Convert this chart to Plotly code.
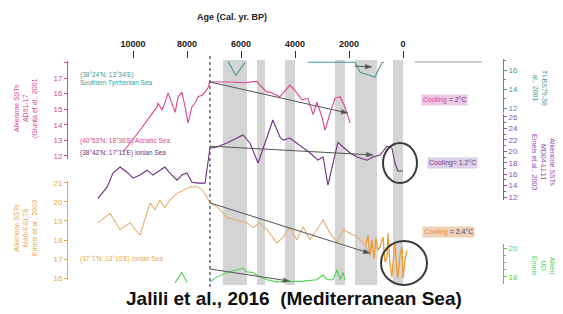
import plotly.graph_objects as go

W, H = 563, 314

# ---------------- data (age in cal. yr BP, SST in °C) ----------------
top_ticks = [10000, 8000, 6000, 4000, 2000, 0]
top_labels = ["10000", "8000", "6000", "4000", "2000", "0"]

band_start = [6670, 5410, 4370, 2520, 1780, 370]
band_end = [5780, 5110, 4000, 2150, 960, 0]

pink_age = [10370, 9740, 9110, 9070, 8930, 8820, 8700, 8560, 8440, 8330,
            8190, 8070, 7960, 7820, 7700, 7590, 7440, 7330, 7220, 7150,
            6410, 5850, 5410, 5300, 5040, 4930, 4560, 4190, 3930, 3740,
            3520, 3330, 3190, 3000, 2890, 2700, 2520, 2330, 2150, 1960]
pink_sst = [12.25, 13.65, 15.15, 15.4, 14.95, 15.4, 16.05, 15.4, 14.8, 15.8,
            16.1, 15.15, 14.1, 15.15, 15.4, 15.8, 15.9, 16.1, 16.4, 16.75,
            16.75, 16.7, 16.8, 16.55, 16.1, 16.1, 15.8, 16.55, 16.05, 15.6,
            15.7, 14.65, 15.45, 14.5, 13.65, 14.75, 15.7, 15.8, 15.15, 14.1]
pink_trend_age = [7150, 2040]
pink_trend_sst = [16.75, 14.75]

purple_age = [11300, 10960, 10740, 10480, 10220, 10000, 9740, 9480, 9260, 9000,
              8820, 8630, 8370, 8190, 8000, 7820, 7590, 7330, 7150, 6890,
              6520, 6150, 5930, 5670, 5370, 5110, 4820, 4560, 4440, 4190,
              3930, 3700, 3440, 3150, 2960, 2780, 2630, 2520, 2410, 2220,
              1960, 1700, 1330, 1110, 850, 590, 410, 300, 190, 0]
purple_sst = [11.8, 13.75, 16.2, 17.25, 16.35, 15.3, 15.85, 16.7, 15.85, 16.7,
              17.25, 16.2, 14.95, 15.85, 16.2, 14.6, 14.45, 14.45, 20.55, 20.75,
              21.45, 22.3, 22.85, 21.45, 17.95, 21.45, 25.45, 22.5, 21.95, 22.3,
              21.45, 20.55, 19.7, 18.45, 19.0, 14.1, 17.25, 19.7, 21.6, 20.75,
              19.7, 19.0, 18.45, 19.0, 19.35, 20.9, 20.55, 17.95, 16.55, 16.55]
purple_trend_age = [7150, 1110]
purple_trend_sst = [20.9, 19.35]

orange_age = [11300, 10850, 10480, 10110, 9740, 9370, 9190, 9000, 8820, 8630,
              8370, 7890, 7630, 7440, 7260, 7150, 6890, 6520, 6150, 5780,
              5560, 5300, 5040, 4670, 4440, 4190, 3930, 3700, 3440, 3190,
              2960, 2700, 2440, 2220, 1960, 1700, 1480, 1220]
orange_sst = [18.9, 19.4, 18.55, 18.9, 18.25, 19.95, 19.6, 20.1, 19.7, 20.1,
              20.45, 20.8, 20.8, 20.65, 20.25, 19.95, 19.75, 19.2, 19.05, 18.9,
              18.65, 18.9, 18.55, 17.85, 18.15, 18.65, 18.0, 18.7, 18.0, 18.55,
              19.05, 18.35, 17.9, 18.55, 18.35, 18.15, 17.85, 17.3]
orange_hr_age = [1370, 1300, 1220, 1150, 1070, 1000, 930, 850, 740, 670, 590, 560,
                 480, 410, 330, 300, 220, 190, 110, 40, 0, -70, -150]
orange_hr_sst = [17.75, 18.25, 17.2, 18.0, 17.05, 18.1, 17.45, 17.65, 18.15, 16.85, 17.1, 18.35,
                 16.7, 16.05, 17.45, 17.85, 16.4, 16.0, 17.2, 17.65, 16.0, 16.95, 17.45]
orange_trend_age = [7150, 1220]
orange_trend_sst = [19.95, 17.3]

teal_age = [6480, 6190, 5850, None, 3520, 2070, 1780, 1590, 1040, 780, 700]
teal_sst = [16.95, 15.45, 16.85, None, 16.85, 16.85, 16.85, 15.8, 15.3, 16.8, 16.85]
teal_trend_age = [1780, 1150]
teal_trend_sst = [16.45, 16.35]

green_age = [8440, 8190, 8000, None, 7150, 6890, 6520, 6150, 5930, 5780, 5560, 5300,
             5040, 4670, 4300, 3700, 3190, 2960, 2810, 2590, 2440, 2330, 2220, 2150]
green_sst = [17.6, 18.3, 17.6, None, 17.65, 18.0, 18.3, 18.5, 18.6, 18.35, 18.3, 18.0,
             17.8, 17.65, 17.65, 17.7, 17.8, 18.15, 17.8, 17.8, 18.5, 17.8, 18.3, 17.8]
green_trend_age = [7150, 4190]
green_trend_sst = [18.55, 17.7]

# ---------------- styling ----------------
PINK = "#dd4590"
PURPLE = "#6e2f80"
PURPLE_AX = "#9050b0"
ORANGE = "#e8b070"
ORANGE_HR = "#f09a30"
ORANGE_AX = "#e8a850"
TEAL = "#3f9c98"
GREEN = "#55d055"
FONT = "Liberation Sans"


def px(x):
    return x / W


def py(y):
    return 1 - y / H


fig = go.Figure()


def add_series(ages, vals, yaxis, color, width=1.1):
    fig.add_trace(go.Scatter(x=ages, y=vals, yaxis=yaxis, mode="lines",
                             line=dict(color=color, width=width),
                             connectgaps=False, hoverinfo="skip", showlegend=False))


def add_trend(ages, vals, yaxis):
    fig.add_trace(go.Scatter(x=ages, y=vals, yaxis=yaxis, mode="lines+markers",
                             line=dict(color="#555555", width=1),
                             marker=dict(symbol="arrow", angleref="previous",
                                         size=[0, 7], color="#111111"),
                             hoverinfo="skip", showlegend=False))


add_series(pink_age, pink_sst, "y", PINK)
add_trend(pink_trend_age, pink_trend_sst, "y")
add_series(purple_age, purple_sst, "y2", PURPLE)
add_trend(purple_trend_age, purple_trend_sst, "y2")
add_series(orange_age, orange_sst, "y3", ORANGE)
add_series(orange_hr_age, orange_hr_sst, "y3", ORANGE_HR, 1.3)
add_trend(orange_trend_age, orange_trend_sst, "y3")
add_series(teal_age, teal_sst, "y4", TEAL)
add_trend(teal_trend_age, teal_trend_sst, "y4")
add_series(green_age, green_sst, "y5", GREEN)
add_trend(green_trend_age, green_trend_sst, "y5")


def yax(top, bot, rng, side, color, tickvals, ticktext=None, minor=None):
    d = dict(domain=[py(bot), py(top)], range=rng, anchor="free",
             position=px(67) if side == "left" else px(503), side=side,
             tickvals=tickvals, ticks="outside", ticklen=3, tickwidth=1,
             showline=True, linecolor=color, linewidth=1, tickcolor=color,
             tickfont=dict(size=8, color=color, family=FONT),
             showgrid=False, zeroline=False, automargin=False)
    if ticktext is not None:
        d["ticktext"] = ticktext
    if minor is not None:
        d["minor"] = dict(tickvals=minor, ticks="outside", ticklen=2, tickcolor=color)
    return d


shapes = []
for s, e in zip(band_start, band_end):
    shapes.append(dict(type="rect", xref="x", yref="paper", x0=s, x1=e,
                       y0=py(285), y1=py(60), fillcolor="#d4d4d4",
                       line=dict(width=0), layer="below"))
shapes.append(dict(type="line", xref="x", yref="paper", x0=7150, x1=7150,
                   y0=py(287), y1=py(55), line=dict(color="#444", width=1.2, dash="dot")))
shapes.append(dict(type="line", xref="paper", yref="paper", x0=px(415), x1=px(482),
                   y0=py(62), y1=py(62), line=dict(color="#9a9a9a", width=1)))
shapes.append(dict(type="circle", xref="paper", yref="paper", x0=px(383), x1=px(417),
                   y0=py(183), y1=py(143), line=dict(color="#3a3a3a", width=2)))
shapes.append(dict(type="circle", xref="paper", yref="paper", x0=px(381), x1=px(427),
                   y0=py(285), y1=py(241), line=dict(color="#3a3a3a", width=2)))


def ann(x, y, text, size=7, color="#222", angle=0, xanchor="center", bg=None, align="center"):
    a = dict(x=px(x), y=py(y), xref="paper", yref="paper", text=text, showarrow=False,
             textangle=angle, xanchor=xanchor, yanchor="middle", align=align,
             font=dict(size=size, color=color, family=FONT))
    if bg:
        a["bgcolor"] = bg
        a["borderpad"] = 1
    return a


annotations = [
    ann(232, 17, "<b>Age (Cal. yr. BP)</b>", 9, "#222"),
    ann(26, 108, "Alkenone SSTs<br>AD91-17<br>(Giunta et al., 2001", 7, PINK, -90),
    ann(26, 228, "Alkenone SSTs<br>M40/4-SL78<br>Emeis et al., 2003", 7, ORANGE_AX, -90),
    ann(540, 88, "TI-BS79-38<br>al., 2001", 7, TEAL, 90),
    ann(544, 162, "Alkenone SSTs<br>MD04-LL11<br>Emeis et al., 2003", 7, PURPLE_AX, 90),
    ann(544, 266, "Alken<br>UO<br>Emeis", 7, GREEN, 90),
    ann(78, 79, "(38°24'N; 13°34'E)<br>Southern Tyrrhenian Sea", 6.5, TEAL, 0, "left", align="left"),
    ann(78, 141, "(40°53'N; 18°36'E) Adriatic Sea", 6.5, PINK, 0, "left"),
    ann(78, 153, "(38°42'N; 17°11'E) Ionian Sea", 6.5, PURPLE, 0, "left"),
    ann(78, 259, "(37°1'N; 13°10'E) Ionian Sea", 6.5, ORANGE_AX, 0, "left"),
    ann(444, 100, "<span style='color:%s'>Cooling</span> = 2°C" % PINK, 7, "#5a3a8a", bg="#ecc8e4"),
    ann(452, 163, "Cooling= 1.2°C", 7, "#7a3a90", bg="#dccfe8"),
    ann(448, 232, "<span style='color:#e09040'>Cooling</span> = 2.4°C", 7, "#3a3a8a", bg="#efd2b4"),
    ann(294, 298, "<b>Jalili et al., 2016  (Mediterranean Sea)</b>", 19, "#111"),
]

fig.update_layout(
    width=W, height=H, margin=dict(l=0, r=0, t=0, b=0, autoexpand=False),
    paper_bgcolor="white", plot_bgcolor="rgba(0,0,0,0)", showlegend=False,
    font=dict(family=FONT),
    xaxis=dict(domain=[px(60), px(500)], range=[(403 - 60) / 0.027, (403 - 500) / 0.027],
               side="top", anchor="free", position=py(58), tickvals=top_ticks,
               ticktext=top_labels,
               ticks="outside", ticklen=7, tickwidth=1, tickcolor="#333",
               showline=False, showgrid=False, zeroline=False, automargin=False,
               tickfont=dict(size=9, color="#222", family=FONT, weight="bold")),
    yaxis=yax(61, 159, [11.8, 18.1], "left", PINK, [12, 13, 14, 15, 16, 17, 18],
              ["12", "13", "14", "15", "16", "17", ""]),
    yaxis2=yax(114, 200, [11.5, 26.5], "right", PURPLE_AX, [12, 14, 16, 18, 20, 22, 24, 26],
               minor=[13, 15, 17, 19, 21, 23, 25]),
    yaxis3=yax(181, 280, [15.9, 21.1], "left", ORANGE_AX, [16, 17, 18, 19, 20, 21]),
    yaxis4=yax(59, 113, [11.5, 17.2], "right", TEAL, [12, 14, 16],
               minor=[13, 15, 17]),
    yaxis5=yax(244, 284, [17.5, 20.3], "right", GREEN, [18, 20],
               minor=[18.5, 19, 19.5]),
    shapes=shapes, annotations=annotations,
)

fig.write_html("out.html", config={"displayModeBar": False},
               post_script="document.body.style.margin='0';document.body.style.padding='0';")
